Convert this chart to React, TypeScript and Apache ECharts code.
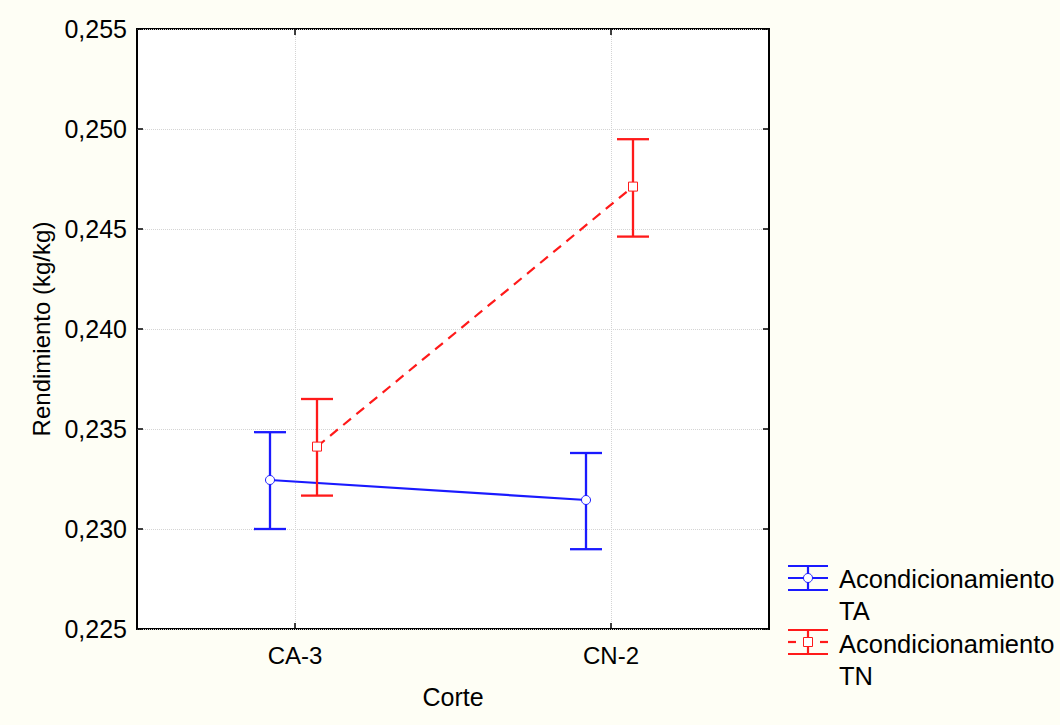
import React, { useEffect, useRef } from "react";
import * as echarts from "echarts";

const categories = ["CA-3", "CN-2"];
const taMean = [0.23245, 0.23145];
const taLow = [0.23, 0.22899];
const taHigh = [0.23484, 0.2338];
const tnMean = [0.23412, 0.24712];
const tnLow = [0.23167, 0.24462];
const tnHigh = [0.2365, 0.24949];
const yTicks = { min: 0.225, max: 0.255, interval: 0.005 };
const legendNames = ["Acondicionamiento\nTA", "Acondicionamiento\nTN"];

const FONT = "'Liberation Sans', Arial, sans-serif";
const BLUE = "#1a1aff";
const RED = "#ff1a1a";

function makeRender(means: number[], dx: number, color: string, marker: "circle" | "square", dashed: boolean) {
  return (params: any, api: any) => {
    const i = api.value(0);
    const m = api.value(1);
    const lo = api.value(2);
    const hi = api.value(3);
    const p = api.coord([i, m]);
    const pl = api.coord([i, lo]);
    const ph = api.coord([i, hi]);
    const x = p[0] + dx;
    const cap = 16;
    const lw = 2.3;
    const children: any[] = [];
    if (params.dataIndex < means.length - 1) {
      const q = api.coord([i + 1, means[params.dataIndex + 1]]);
      children.push({
        type: "line",
        shape: { x1: x, y1: p[1], x2: q[0] + dx, y2: q[1] },
        style: { stroke: color, lineWidth: 2.2, lineDash: dashed ? [10, 7] : null },
        z2: 1,
      });
    }
    children.push(
      { type: "line", shape: { x1: x, y1: ph[1], x2: x, y2: pl[1] }, style: { stroke: color, lineWidth: lw }, z2: 2 },
      { type: "line", shape: { x1: x - cap, y1: ph[1], x2: x + cap, y2: ph[1] }, style: { stroke: color, lineWidth: lw }, z2: 2 },
      { type: "line", shape: { x1: x - cap, y1: pl[1], x2: x + cap, y2: pl[1] }, style: { stroke: color, lineWidth: lw }, z2: 2 }
    );
    if (marker === "circle") {
      children.push({ type: "circle", shape: { cx: x, cy: p[1], r: 4.5 }, style: { fill: "#fff", stroke: color, lineWidth: 1 }, z2: 3 });
    } else {
      children.push({ type: "rect", shape: { x: x - 4.5, y: p[1] - 4.5, width: 9, height: 9 }, style: { fill: "#fff", stroke: color, lineWidth: 1 }, z2: 3 });
    }
    return { type: "group", children };
  };
}

function legendIcon(x: number, y: number, color: string, marker: "circle" | "square", dashed: boolean) {
  const c = x + 20;
  const kids: any[] = [
    { type: "line", shape: { x1: x, y1: y - 12, x2: x + 40, y2: y - 12 }, style: { stroke: color, lineWidth: 2.2 } },
    { type: "line", shape: { x1: x, y1: y + 12, x2: x + 40, y2: y + 12 }, style: { stroke: color, lineWidth: 2.2 } },
    { type: "line", shape: { x1: c, y1: y - 12, x2: c, y2: y + 12 }, style: { stroke: color, lineWidth: 2.2 } },
  ];
  if (dashed) {
    kids.push(
      { type: "line", shape: { x1: x, y1: y, x2: x + 8, y2: y }, style: { stroke: color, lineWidth: 2.2 } },
      { type: "line", shape: { x1: x + 32, y1: y, x2: x + 40, y2: y }, style: { stroke: color, lineWidth: 2.2 } }
    );
  } else {
    kids.push({ type: "line", shape: { x1: x, y1: y, x2: x + 40, y2: y }, style: { stroke: color, lineWidth: 2.2 } });
  }
  if (marker === "circle") {
    kids.push({ type: "circle", shape: { cx: c, cy: y, r: 4.5 }, style: { fill: "#fff", stroke: color, lineWidth: 1 } });
  } else {
    kids.push({ type: "rect", shape: { x: c - 4.5, y: y - 4.5, width: 9, height: 9 }, style: { fill: "#fff", stroke: color, lineWidth: 1 } });
  }
  return { type: "group", children: kids };
}

export default function App() {
  const ref = useRef<HTMLDivElement>(null);
  useEffect(() => {
    document.body.style.margin = "0";
    document.body.style.background = "#fefef5";
    const chart = echarts.init(ref.current!, null, { renderer: "svg" });
    const fmt = (v: number) => v.toFixed(3).replace(".", ",");
    const taData = categories.map((_, i) => [i, taMean[i], taLow[i], taHigh[i]]);
    const tnData = categories.map((_, i) => [i, tnMean[i], tnLow[i], tnHigh[i]]);
    chart.setOption({
      animation: false,
      backgroundColor: "#fefef5",
      textStyle: { fontFamily: FONT },
      grid: {
        left: 137,
        top: 29,
        width: 632,
        height: 600,
        show: true,
        backgroundColor: "#ffffff",
        borderColor: "#000",
        borderWidth: 2,
      },
      xAxis: [
        {
          type: "category",
          data: categories,
          boundaryGap: true,
          name: "Corte",
          nameLocation: "middle",
          nameGap: 55,
          nameTextStyle: { fontSize: 25, color: "#000", fontFamily: FONT },
          axisLine: { show: false },
          axisTick: { show: true, inside: true, alignWithLabel: true, length: 6, lineStyle: { color: "#000", width: 1.5 } },
          axisLabel: { fontSize: 24, color: "#000", margin: 14, fontFamily: FONT },
          splitLine: { show: true, alignWithLabel: true, lineStyle: { color: "#d4d4d4", type: "dotted", width: 1 } },
        },
        {
          type: "category",
          data: categories,
          position: "top",
          boundaryGap: true,
          axisLine: { show: false },
          axisTick: { show: true, inside: true, alignWithLabel: true, length: 6, lineStyle: { color: "#000", width: 1.5 } },
          axisLabel: { show: false },
          splitLine: { show: false },
        },
      ],
      yAxis: [
        {
          type: "value",
          min: yTicks.min,
          max: yTicks.max,
          interval: yTicks.interval,
          name: "Rendimiento (kg/kg)",
          nameLocation: "middle",
          nameGap: 84,
          nameTextStyle: { fontSize: 24, color: "#000", fontFamily: FONT },
          axisLine: { show: false },
          axisTick: { show: true, inside: true, length: 6, lineStyle: { color: "#000", width: 1.5 } },
          axisLabel: { fontSize: 25, color: "#000", margin: 10, formatter: fmt, fontFamily: FONT },
          splitLine: { show: true, lineStyle: { color: "#d4d4d4", type: "dotted", width: 1 } },
        },
        {
          type: "value",
          min: yTicks.min,
          max: yTicks.max,
          interval: yTicks.interval,
          position: "right",
          axisLine: { show: false },
          axisTick: { show: true, inside: true, length: 6, lineStyle: { color: "#000", width: 1.5 } },
          axisLabel: { show: false },
          splitLine: { show: false },
        },
      ],
      series: [
        {
          name: "TA",
          type: "custom",
          renderItem: makeRender(taMean, -25, BLUE, "circle", false),
          data: taData,
          z: 3,
        },
        {
          name: "TN",
          type: "custom",
          renderItem: makeRender(tnMean, 22, RED, "square", true),
          data: tnData,
          z: 4,
        },
      ],
      graphic: [
        legendIcon(788, 578, BLUE, "circle", false),
        legendIcon(788, 642, RED, "square", true),
        {
          type: "text",
          left: 839,
          top: 563,
          style: { text: legendNames[0], fontSize: 25.5, lineHeight: 32, fill: "#000", fontFamily: FONT },
        },
        {
          type: "text",
          left: 839,
          top: 628,
          style: { text: legendNames[1], fontSize: 25.5, lineHeight: 32, fill: "#000", fontFamily: FONT },
        },
      ],
    });
    return () => chart.dispose();
  }, []);
  return <div ref={ref} style={{ width: 1060, height: 725 }} />;
}
